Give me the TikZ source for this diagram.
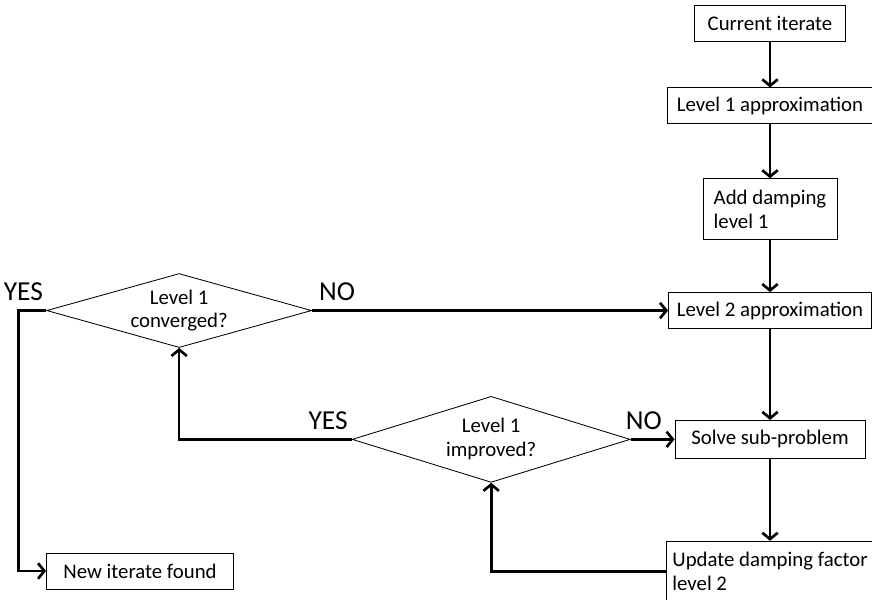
\documentclass[tikz,border=0pt]{standalone}
\usepackage{fontspec}
\setmainfont{Carlito}
\usetikzlibrary{positioning, shapes.geometric, arrows.meta}

\begin{document}
\begin{tikzpicture}[
    box/.style={draw, line width=0.6pt, minimum height=0.9cm, inner xsep=3pt, font=\fontsize{14.8}{17}\selectfont},
    decision/.style={draw, diamond, aspect=3.5, line width=0.6pt, inner sep=0pt, align=center, font=\fontsize{14.8}{17}\selectfont},
    arr/.style={-{Straight Barb[length=4.5pt,width=11pt]}, line width=1.9pt},
    answer/.style={font=\fontsize{19.5}{21}\selectfont, inner sep=2pt, yshift=4pt}
]
    \useasboundingbox (0,0) rectangle (21.8,-14.975);

    % Right column
    \node[box, minimum width=3.775cm] (current) at (19.25,-0.575) {Current iterate};
    \node[box, minimum width=5.125cm, below=1.15cm of current] (approx1) {Level 1 approximation};
    \node[box, minimum width=3.35cm, minimum height=1.525cm, align=left, below=1.35cm of approx1] (damping1) {Add damping\\level 1};
    \node[box, minimum width=5.075cm, below=1.3cm of damping1] (approx2) {Level 2 approximation};
    \node[box, minimum width=4.75cm, minimum height=0.95cm, below=2.275cm of approx2] (solve) {Solve sub-problem};
    \node[box, minimum width=5.175cm, minimum height=1.525cm, align=left, below=2.05cm of solve] (update) {Update damping factor\\level 2};

    % Decisions
    \node[decision, minimum width=6.625cm, minimum height=1.85cm, left=8.9cm of approx2] (converged) {Level 1\\converged?};
    \node[decision, minimum width=6.95cm, minimum height=2.15cm, left=1.1cm of solve] (improved) {Level 1\\improved?};

    % Result
    \node[box, minimum width=4.675cm] (newiterate) at (3.5,-14.275) {New iterate found};

    % Arrows
    \draw[arr] (current) -- (approx1);
    \draw[arr] (approx1) -- (damping1);
    \draw[arr] (damping1) -- (approx2);
    \draw[arr] (approx2) -- (solve);
    \draw[arr] (solve) -- (update);
    \draw[arr] (converged.east) -- node[answer, above right, pos=0, xshift=2pt] {NO} (approx2.west);
    \draw[arr] (converged.west) -- ++(-0.69,0) node[answer, above, xshift=0.12cm] {YES} |- (newiterate.west);
    \draw[arr] (improved.east) -- node[answer, above, pos=0.3] {NO} (solve.west);
    \draw[arr] (improved.west) node[answer, above left] {YES} -| (converged.south);
    \draw[arr] (update.west) -| (improved.south);
\end{tikzpicture}
\end{document}
